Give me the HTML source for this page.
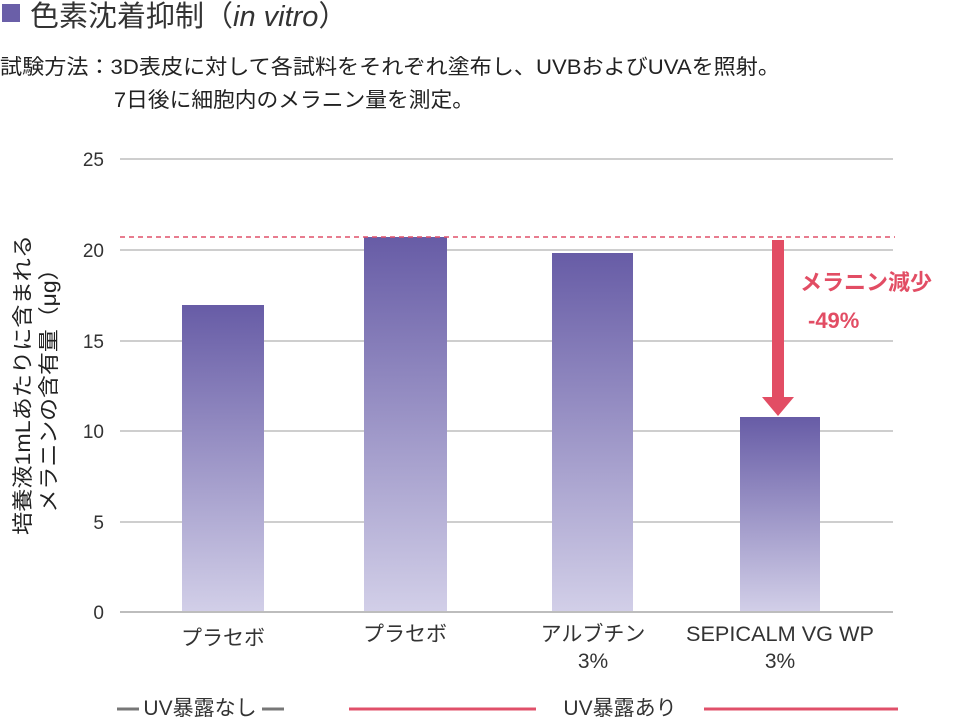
<!DOCTYPE html>
<html><head><meta charset="utf-8"><style>
body{margin:0;width:960px;height:720px;background:#fff;overflow:hidden;font-family:"Liberation Sans","Noto Sans CJK JP",sans-serif;}
</style></head><body>
<svg width="960" height="720" xmlns="http://www.w3.org/2000/svg" font-family="Liberation Sans, Noto Sans CJK JP, sans-serif">
<defs><linearGradient id="g" x1="0" y1="0" x2="0" y2="1"><stop offset="0" stop-color="#675ca6"/><stop offset="1" stop-color="#d2cfe8"/></linearGradient></defs>
<rect x="2" y="4" width="18" height="18" fill="#6a5fa8"/>
<text x="30" y="26" font-size="29" fill="#333">色素沈着抑制（<tspan font-style="italic">in vitro</tspan>）</text>
<text x="0" y="74" font-size="21" fill="#222" textLength="780" lengthAdjust="spacingAndGlyphs">試験方法：3D表皮に対して各試料をそれぞれ塗布し、UVBおよびUVAを照射。</text>
<text x="114" y="107" font-size="21" fill="#222" textLength="360" lengthAdjust="spacingAndGlyphs">7日後に細胞内のメラニン量を測定。</text>
<g stroke="#bdbdbd" stroke-width="1.5">
<line x1="120" y1="159" x2="893" y2="159"/><line x1="120" y1="250" x2="893" y2="250"/><line x1="120" y1="341" x2="893" y2="341"/><line x1="120" y1="431" x2="893" y2="431"/><line x1="120" y1="522" x2="893" y2="522"/>
</g>
<g font-size="19" fill="#333" text-anchor="end">
<text x="104" y="166">25</text><text x="104" y="257">20</text><text x="104" y="348">15</text><text x="104" y="438">10</text><text x="104" y="529">5</text><text x="104" y="619">0</text>
</g>
<rect x="182" y="305" width="82" height="307" fill="url(#g)"/>
<rect x="364" y="237" width="83" height="375" fill="url(#g)"/>
<rect x="552" y="253" width="81" height="359" fill="url(#g)"/>
<rect x="740" y="417" width="80" height="195" fill="url(#g)"/>
<line x1="120" y1="612" x2="893" y2="612" stroke="#bdbdbd" stroke-width="2"/>
<line x1="120" y1="237" x2="895" y2="237" stroke="#e0506a" stroke-width="1.5" stroke-dasharray="5,4"/>
<rect x="772" y="240" width="12" height="158" fill="#e24d64"/>
<polygon points="762,397 794,397 778,416" fill="#e24d64"/>
<text x="800" y="290" font-size="22" font-weight="bold" fill="#e24d64">メラニン減少</text>
<text x="808" y="328" font-size="22" font-weight="bold" fill="#e24d64">-49%</text>
<g transform="translate(30,385) rotate(-90)" font-size="21" fill="#222" text-anchor="middle">
<text x="0" y="0" textLength="300" lengthAdjust="spacingAndGlyphs">培養液1mLあたりに含まれる</text><text x="0" y="26" textLength="255" lengthAdjust="spacingAndGlyphs">メラニンの含有量（μg）</text>
</g>
<g font-size="21" fill="#333" text-anchor="middle">
<text x="223" y="645">プラセボ</text><text x="405" y="641">プラセボ</text>
<text x="593" y="641">アルブチン</text><text x="593" y="668">3%</text>
<text x="780" y="641" textLength="188" lengthAdjust="spacingAndGlyphs">SEPICALM VG WP</text><text x="780" y="668">3%</text>
</g>
<g stroke-width="3"><line x1="117" y1="709" x2="139" y2="709" stroke="#777"/><line x1="262" y1="709" x2="284" y2="709" stroke="#777"/>
<line x1="349" y1="709" x2="536" y2="709" stroke="#e0506a"/><line x1="704" y1="709" x2="898" y2="709" stroke="#e0506a"/></g>
<text x="200" y="715" font-size="21" fill="#333" text-anchor="middle">UV暴露なし</text>
<text x="620" y="715" font-size="21" fill="#333" text-anchor="middle">UV暴露あり</text>
</svg>
</body></html>
